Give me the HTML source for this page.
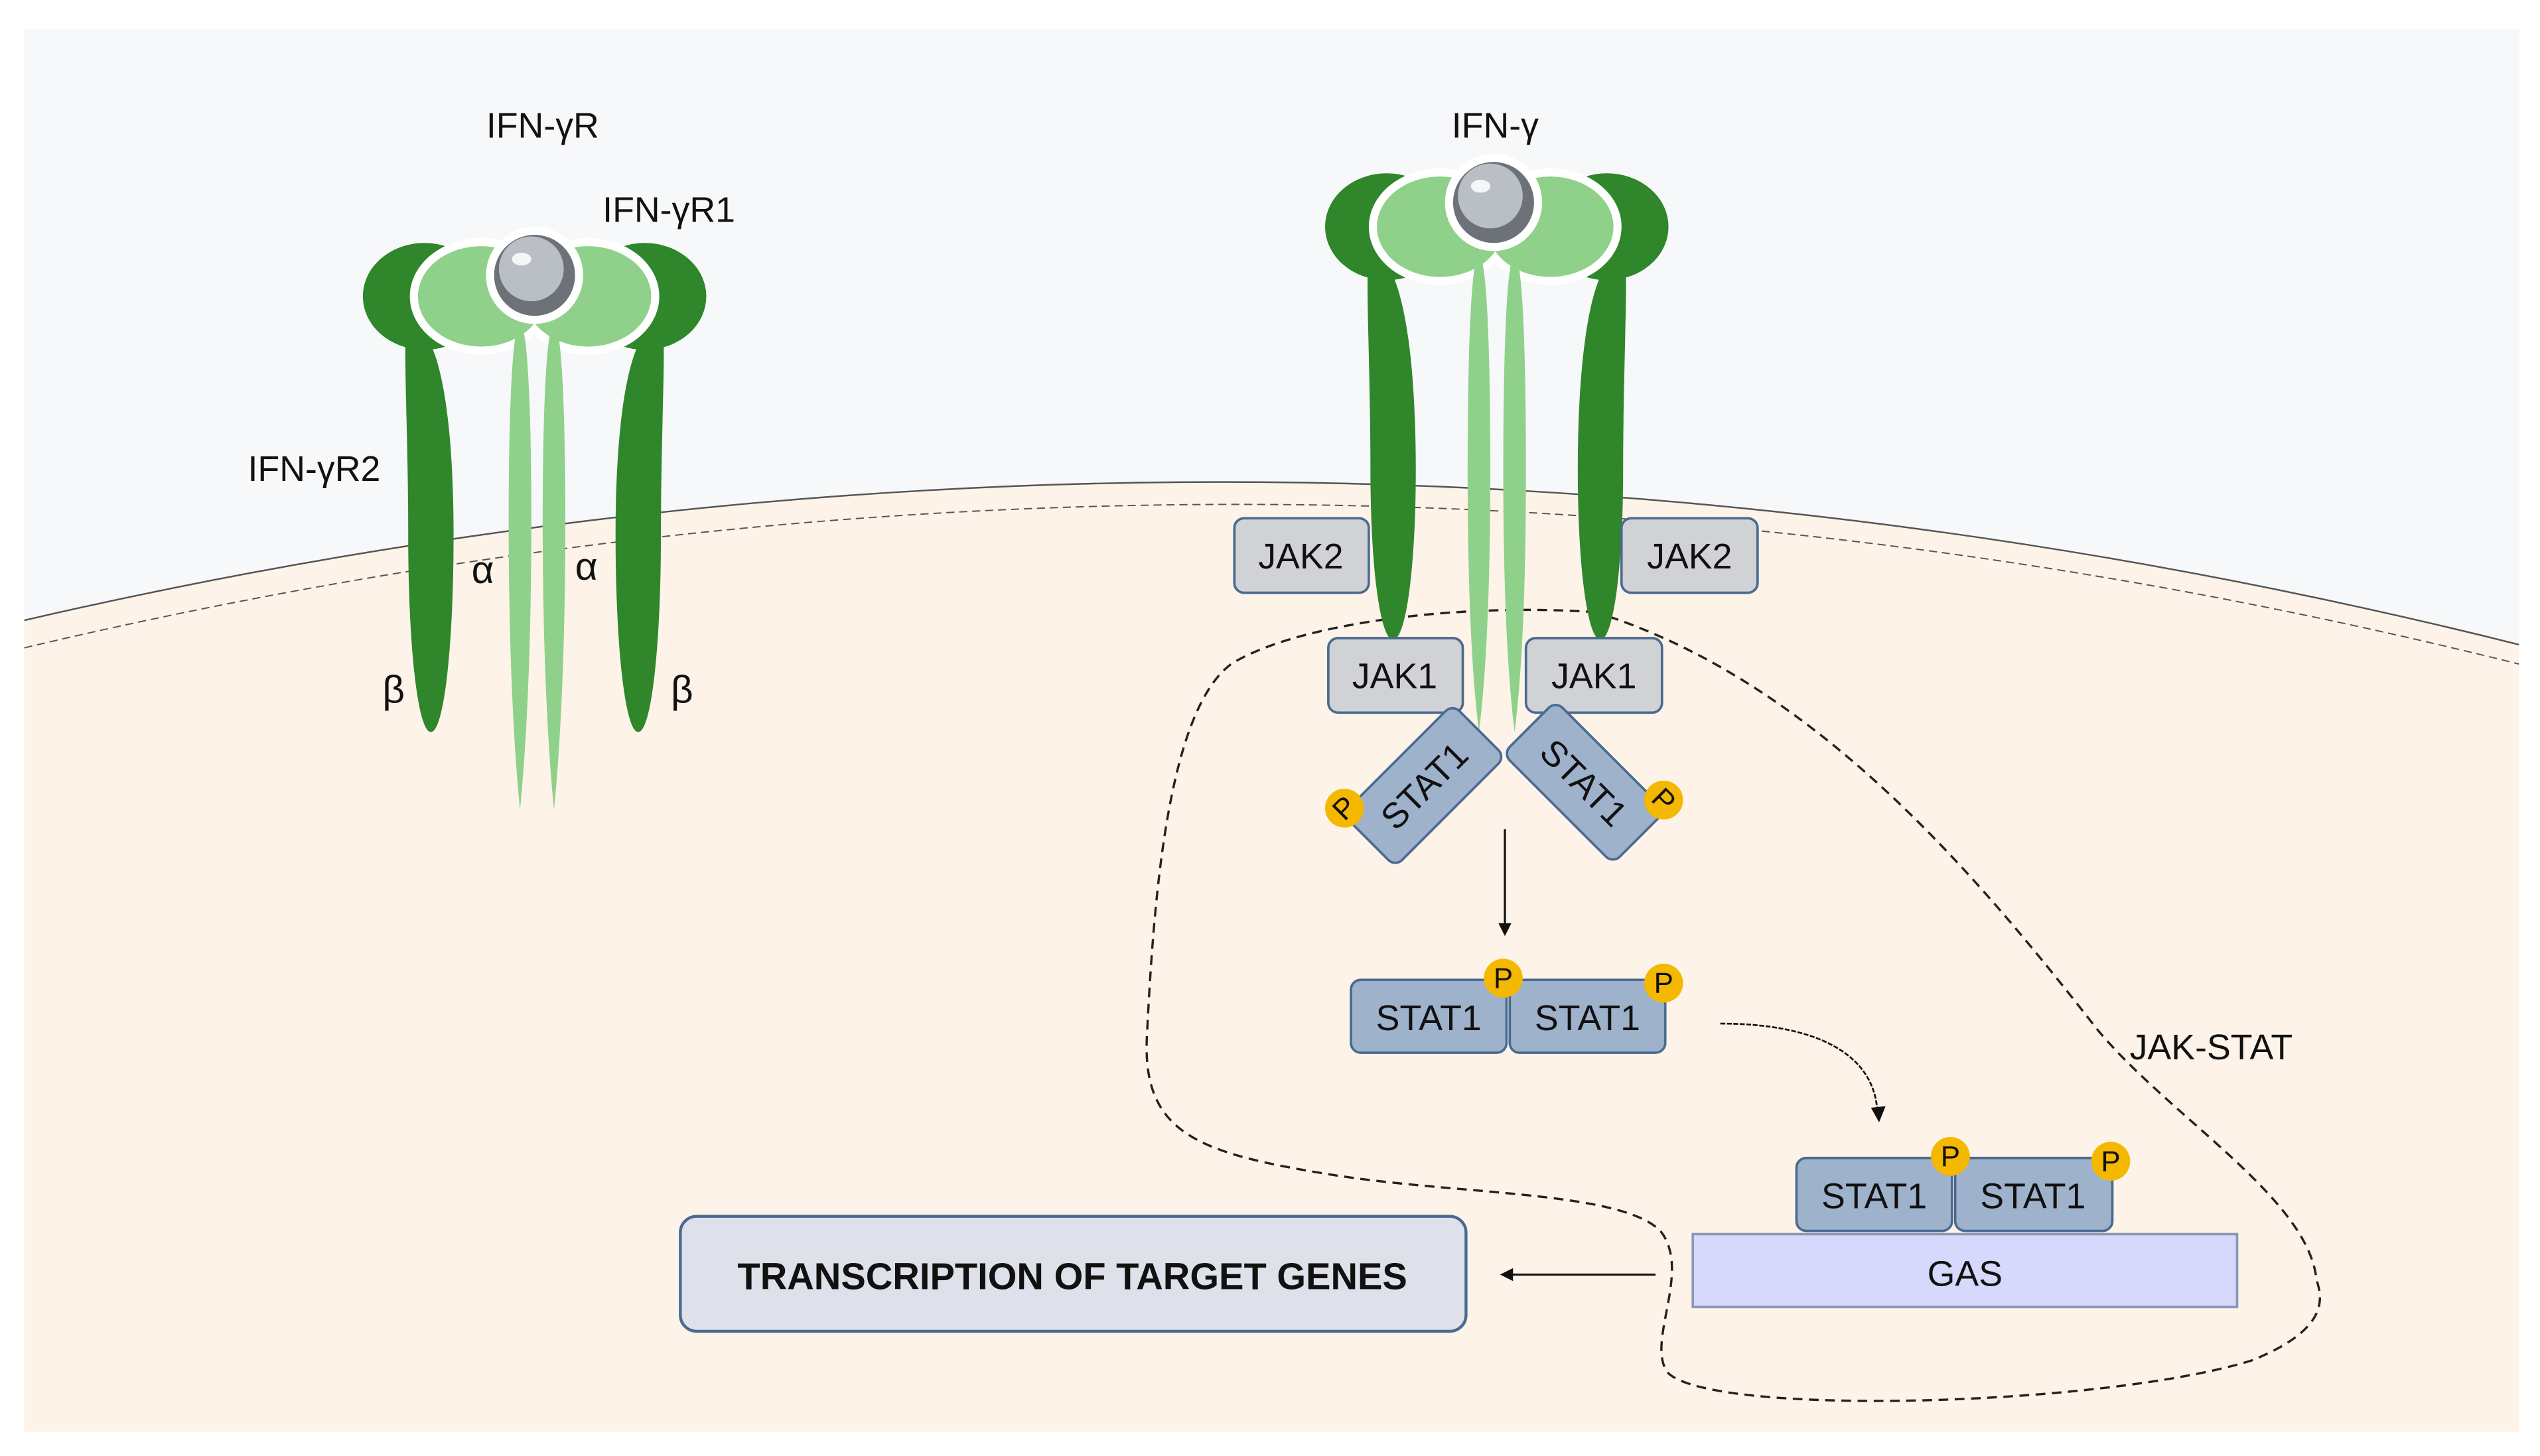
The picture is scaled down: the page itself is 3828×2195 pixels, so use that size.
<!DOCTYPE html>
<html><head><meta charset="utf-8"><style>
html,body{margin:0;padding:0;background:#fff;}
svg{display:block;}
text{font-family:"Liberation Sans","DejaVu Sans",sans-serif;fill:#111;}
</style></head><body>
<svg width="3828" height="2195" viewBox="0 0 1568 899" preserveAspectRatio="none" xmlns="http://www.w3.org/2000/svg">
<rect x="0" y="0" width="1568" height="899" fill="#fff"/>
<rect x="15" y="18" width="1540" height="866" fill="#f7f8f9"/>
<path d="M15,383 Q785,205 1555,398 L1555,884 L15,884 Z" fill="#fdf3e8"/>
<path d="M15,383 Q785,205 1555,398" fill="none" stroke="#555" stroke-width="1"/>
<path d="M15,400 Q785,218 1555,410" fill="none" stroke="#555" stroke-width="0.8" stroke-dasharray="5,3"/>

<path d="M985,378 C900,372 800,385 760,410 C720,440 712,560 708,640 C705,700 740,712 820,725 C900,738 1000,735 1025,760 C1045,785 1015,830 1030,848 C1060,875 1300,868 1390,840 C1440,820 1433,800 1430,790 C1425,740 1340,690 1295,636 C1220,540 1120,420 985,378 Z" fill="none" stroke="#222" stroke-width="1.4" stroke-dasharray="6,4"/>

<!-- LEFT RECEPTOR -->
<g>
<ellipse cx="262" cy="183" rx="38" ry="33" fill="#2f862b"/>
<ellipse cx="398" cy="183" rx="38" ry="33" fill="#2f862b"/>
<path d="M252,200 C272,200 280,260 280,330 C280,400 274,452 266,452 C258,452 252,400 252,330 C252,260 248,200 252,200Z" fill="#2f862b"/>
<path d="M408,200 C388,200 380,260 380,330 C380,400 386,452 394,452 C402,452 408,400 408,330 C408,260 412,200 408,200Z" fill="#2f862b"/>
<ellipse cx="297" cy="183" rx="44" ry="36" fill="#fff"/>
<ellipse cx="363" cy="183" rx="44" ry="36" fill="#fff"/>
<ellipse cx="297" cy="183" rx="39" ry="31" fill="#8fd18a"/>
<ellipse cx="363" cy="183" rx="39" ry="31" fill="#8fd18a"/>
<path d="M321,200 C326,200 328,260 328,320 C328,400 325,460 321,500 C317,460 314,400 314,320 C314,260 316,200 321,200Z" fill="#8fd18a"/>
<path d="M342,200 C347,200 349,260 349,320 C349,400 346,460 342,500 C338,460 335,400 335,320 C335,260 337,200 342,200Z" fill="#8fd18a"/>
<circle cx="330" cy="170" r="30" fill="#fff"/>
<circle cx="330" cy="170" r="25" fill="#6d7278"/>
<circle cx="328" cy="166" r="20" fill="#b9bfc4"/>
<ellipse cx="322" cy="160" rx="6" ry="4" fill="#f4f6f8"/>
</g>
<text x="335" y="85" font-size="22" text-anchor="middle">IFN-γR</text>
<text x="372" y="137" font-size="22">IFN-γR1</text>
<text x="153" y="297" font-size="22">IFN-γR2</text>
<text x="298" y="360" font-size="24" text-anchor="middle">α</text>
<text x="362" y="358" font-size="24" text-anchor="middle">α</text>
<text x="243" y="434" font-size="24" text-anchor="middle">β</text>
<text x="421" y="434" font-size="24" text-anchor="middle">β</text>

<!-- RIGHT RECEPTOR -->
<g>
<ellipse cx="856" cy="140" rx="38" ry="33" fill="#2f862b"/>
<ellipse cx="992" cy="140" rx="38" ry="33" fill="#2f862b"/>
<path d="M846,157 C866,157 874,220 874,290 C874,350 868,395 860,395 C852,395 846,350 846,290 C846,220 842,157 846,157Z" fill="#2f862b"/>
<path d="M1002,157 C982,157 974,220 974,290 C974,350 980,395 988,395 C996,395 1002,350 1002,290 C1002,220 1006,157 1002,157Z" fill="#2f862b"/>
<ellipse cx="889" cy="140" rx="44" ry="36" fill="#fff"/>
<ellipse cx="957" cy="140" rx="44" ry="36" fill="#fff"/>
<ellipse cx="889" cy="140" rx="39" ry="31" fill="#8fd18a"/>
<ellipse cx="957" cy="140" rx="39" ry="31" fill="#8fd18a"/>
<path d="M913,158 C918,158 920,220 920,290 C920,370 917,420 913,452 C909,420 906,370 906,290 C906,220 908,158 913,158Z" fill="#8fd18a"/>
<path d="M935,158 C940,158 942,220 942,290 C942,370 939,420 935,452 C931,420 928,370 928,290 C928,220 930,158 935,158Z" fill="#8fd18a"/>
<circle cx="922" cy="125" r="30" fill="#fff"/>
<circle cx="922" cy="125" r="25" fill="#6d7278"/>
<circle cx="920" cy="121" r="20" fill="#b9bfc4"/>
<ellipse cx="914" cy="115" rx="6" ry="4" fill="#f4f6f8"/>
</g>
<text x="923" y="85" font-size="22" text-anchor="middle">IFN-γ</text>

<g fill="#d0d2d6" stroke="#4a6a90" stroke-width="1.5">
<rect x="762" y="320" width="83" height="46" rx="6"/>
<rect x="1001" y="320" width="84" height="46" rx="6"/>
<rect x="820" y="394" width="83" height="46" rx="6"/>
<rect x="942" y="394" width="84" height="46" rx="6"/>
</g>
<g font-size="22" text-anchor="middle">
<text x="803" y="351">JAK2</text>
<text x="1043" y="351">JAK2</text>
<text x="861" y="425">JAK1</text>
<text x="984" y="425">JAK1</text>
</g>

<g transform="translate(879,485) rotate(-45)">
<rect x="-48" y="-23" width="96" height="46" rx="6" fill="#9fb2cc" stroke="#4a6a90" stroke-width="1.5"/>
<text x="0" y="8" font-size="22" text-anchor="middle">STAT1</text>
</g>
<g transform="translate(978,483) rotate(45)">
<rect x="-48" y="-23" width="96" height="46" rx="6" fill="#9fb2cc" stroke="#4a6a90" stroke-width="1.5"/>
<text x="0" y="8" font-size="22" text-anchor="middle">STAT1</text>
</g>
<g font-size="18" text-anchor="middle">
<circle cx="830" cy="499" r="12" fill="#f5b800"/><text x="830" y="505" transform="rotate(-45 830 499)">P</text>
<circle cx="1027" cy="494" r="12" fill="#f5b800"/><text x="1027" y="500" transform="rotate(45 1027 494)">P</text>
</g>

<line x1="929" y1="512" x2="929" y2="572" stroke="#111" stroke-width="1.3"/>
<path d="M925,570 L929,578 L933,570Z" fill="#111"/>

<g fill="#9fb2cc" stroke="#4a6a90" stroke-width="1.5">
<rect x="834" y="605" width="96" height="45" rx="6"/>
<rect x="932" y="605" width="96" height="45" rx="6"/>
<rect x="1109" y="715" width="96" height="45" rx="6"/>
<rect x="1207" y="715" width="97" height="45" rx="6"/>
</g>
<g font-size="22" text-anchor="middle">
<text x="882" y="636">STAT1</text>
<text x="980" y="636">STAT1</text>
<text x="1157" y="746">STAT1</text>
<text x="1255" y="746">STAT1</text>
</g>
<g fill="#f5b800">
<circle cx="928" cy="604" r="12"/><circle cx="1027" cy="607" r="12"/>
<circle cx="1204" cy="714" r="12"/><circle cx="1303" cy="717" r="12"/>
</g>
<g font-size="18" text-anchor="middle">
<text x="928" y="610">P</text><text x="1027" y="613">P</text>
<text x="1204" y="720">P</text><text x="1303" y="723">P</text>
</g>

<path d="M1062,632 C1120,632 1158,650 1159,688" fill="none" stroke="#111" stroke-width="1.1" stroke-dasharray="3,1"/>
<path d="M1155,684 L1160,693 L1164,683Z" fill="#111"/>

<rect x="1045" y="762" width="336" height="45" fill="#d6d9fb" stroke="#8d96b8" stroke-width="1.5"/>
<text x="1213" y="794" font-size="22" text-anchor="middle">GAS</text>

<line x1="1022" y1="787" x2="932" y2="787" stroke="#111" stroke-width="1.3"/>
<path d="M934,783 L926,787 L934,791Z" fill="#111"/>

<rect x="420" y="751" width="485" height="71" rx="10" fill="#dfe1ea" stroke="#4a6a90" stroke-width="1.8"/>
<text x="662" y="796" font-size="23" font-weight="bold" text-anchor="middle">TRANSCRIPTION OF TARGET GENES</text>

<text x="1365" y="654" font-size="22" text-anchor="middle">JAK-STAT</text>
</svg>
</body></html>
